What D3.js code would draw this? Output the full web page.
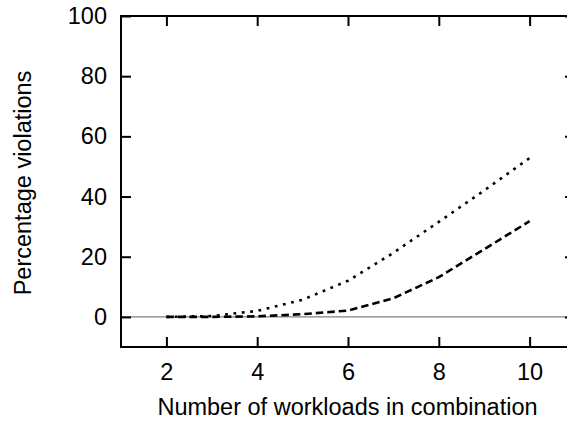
<!DOCTYPE html>
<html>
<head>
<meta charset="utf-8">
<script src="https://cdn.jsdelivr.net/npm/d3@7"></script>
<style>
  html, body { margin: 0; padding: 0; background: #fff; }
  svg { display: block; }
  text { font-family: "Liberation Sans", Arial, Helvetica, sans-serif; fill: #000; }
</style>
</head>
<body>
<svg id="chart" width="567" height="423"></svg>
<script>
// Number of workloads combined
const workloads = [2, 3, 4, 5, 6, 7, 8, 9, 10];
// Percentage of violations for the two policies
const seriesDotted = [0, 0.3, 2, 5.7, 12, 21.3, 31.6, 42, 52.8];
const seriesDashed = [0, 0, 0.2, 0.9, 2.1, 6.2, 13.2, 22.5, 31.8];
const xTicks = [2, 4, 6, 8, 10];
const yTicks = [0, 20, 40, 60, 80, 100];

const svg = d3.select("#chart");
const plotL = 121, plotR = 575, plotT = 16, plotB = 347;
const fontSize = "23.5px";

const x = d3.scaleLinear().domain([1, 11]).range([plotL, plotR]);
const y = d3.scaleLinear().domain([-10, 100]).range([plotB, plotT]);

// zero reference line
svg.append("line")
  .attr("x1", plotL).attr("x2", plotR)
  .attr("y1", y(0)).attr("y2", y(0))
  .attr("stroke", "#808080").attr("stroke-width", 1.2);

const line = d3.line().x(d => x(d[0])).y(d => y(d[1]));

svg.append("path")
  .datum(workloads.map((w, i) => [w, seriesDotted[i]]))
  .attr("d", line)
  .attr("fill", "none").attr("stroke", "#000")
  .attr("stroke-width", 2.6)
  .attr("stroke-dasharray", "2.8,5.6");

svg.append("path")
  .datum(workloads.map((w, i) => [w, seriesDashed[i]]))
  .attr("d", line)
  .attr("fill", "none").attr("stroke", "#000")
  .attr("stroke-width", 2.6)
  .attr("stroke-dasharray", "7.5,4");

// frame with inward ticks on all four sides
const tickLen = 10;
const axB = d3.axisBottom(x).tickValues(xTicks).tickSize(-tickLen).tickPadding(16);
const axT = d3.axisTop(x).tickValues(xTicks).tickSize(-tickLen).tickFormat("");
const axL = d3.axisLeft(y).tickValues(yTicks).tickSize(-tickLen).tickPadding(14);
const axR = d3.axisRight(y).tickValues(yTicks).tickSize(-tickLen).tickFormat("");

function styleAxis(g) {
  g.select(".domain").remove();
  g.selectAll(".tick line").attr("stroke", "#000").attr("stroke-width", 2);
  g.selectAll(".tick text").style("font-size", fontSize)
    .style("font-family", "'Liberation Sans', Arial, sans-serif").attr("fill", "#000");
}

svg.append("g").attr("transform", `translate(0,${plotB})`).call(axB).call(styleAxis);
svg.append("g").attr("transform", `translate(0,${plotT})`).call(axT).call(styleAxis);
svg.append("g").attr("transform", `translate(${plotL},0)`).call(axL).call(styleAxis);
svg.append("g").attr("transform", `translate(${plotR},0)`).call(axR).call(styleAxis);

svg.append("rect")
  .attr("x", plotL).attr("y", plotT)
  .attr("width", plotR - plotL).attr("height", plotB - plotT)
  .attr("fill", "none").attr("stroke", "#000").attr("stroke-width", 2);

// axis titles
svg.append("text")
  .attr("x", 347.5).attr("y", 415)
  .attr("text-anchor", "middle").style("font-size", fontSize)
  .text("Number of workloads in combination");

svg.append("text")
  .attr("transform", "translate(31,183) rotate(-90)")
  .attr("text-anchor", "middle").style("font-size", fontSize)
  .text("Percentage violations");
</script>
</body>
</html>
